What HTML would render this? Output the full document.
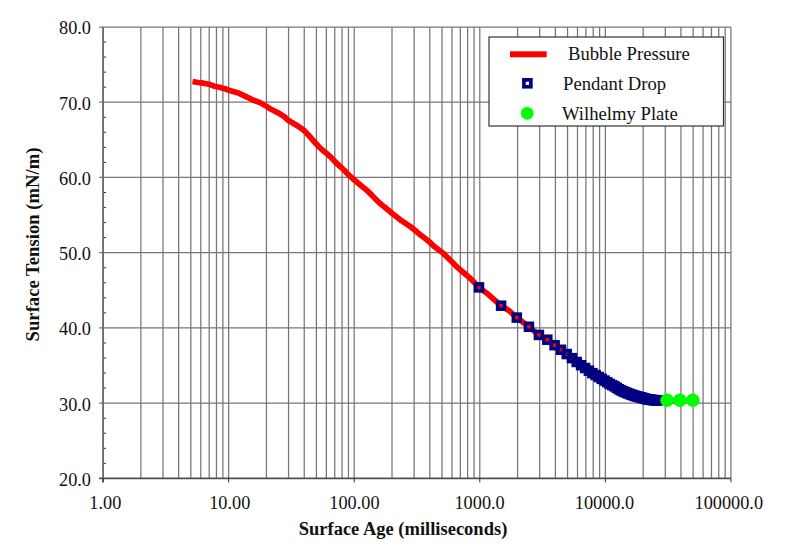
<!DOCTYPE html><html><head><meta charset="utf-8"><style>html,body{margin:0;padding:0;background:#fff;width:800px;height:559px;overflow:hidden}svg{display:block}text{font-family:"Liberation Serif",serif}</style></head><body>
<svg width="800" height="559" viewBox="0 0 800 559">
<rect width="800" height="559" fill="#fff"/>
<g stroke="#767676" stroke-width="1.25"><line x1="140.86" y1="27.00" x2="140.86" y2="478.38"/><line x1="162.97" y1="27.00" x2="162.97" y2="478.38"/><line x1="178.66" y1="27.00" x2="178.66" y2="478.38"/><line x1="190.83" y1="27.00" x2="190.83" y2="478.38"/><line x1="200.78" y1="27.00" x2="200.78" y2="478.38"/><line x1="209.18" y1="27.00" x2="209.18" y2="478.38"/><line x1="216.47" y1="27.00" x2="216.47" y2="478.38"/><line x1="222.89" y1="27.00" x2="222.89" y2="478.38"/><line x1="228.63" y1="27.00" x2="228.63" y2="478.38"/><line x1="266.44" y1="27.00" x2="266.44" y2="478.38"/><line x1="288.55" y1="27.00" x2="288.55" y2="478.38"/><line x1="304.24" y1="27.00" x2="304.24" y2="478.38"/><line x1="316.41" y1="27.00" x2="316.41" y2="478.38"/><line x1="326.35" y1="27.00" x2="326.35" y2="478.38"/><line x1="334.76" y1="27.00" x2="334.76" y2="478.38"/><line x1="342.04" y1="27.00" x2="342.04" y2="478.38"/><line x1="348.46" y1="27.00" x2="348.46" y2="478.38"/><line x1="354.21" y1="27.00" x2="354.21" y2="478.38"/><line x1="392.01" y1="27.00" x2="392.01" y2="478.38"/><line x1="414.12" y1="27.00" x2="414.12" y2="478.38"/><line x1="429.81" y1="27.00" x2="429.81" y2="478.38"/><line x1="441.98" y1="27.00" x2="441.98" y2="478.38"/><line x1="451.93" y1="27.00" x2="451.93" y2="478.38"/><line x1="460.33" y1="27.00" x2="460.33" y2="478.38"/><line x1="467.62" y1="27.00" x2="467.62" y2="478.38"/><line x1="474.04" y1="27.00" x2="474.04" y2="478.38"/><line x1="479.79" y1="27.00" x2="479.79" y2="478.38"/><line x1="517.59" y1="27.00" x2="517.59" y2="478.38"/><line x1="539.70" y1="27.00" x2="539.70" y2="478.38"/><line x1="555.39" y1="27.00" x2="555.39" y2="478.38"/><line x1="567.56" y1="27.00" x2="567.56" y2="478.38"/><line x1="577.50" y1="27.00" x2="577.50" y2="478.38"/><line x1="585.91" y1="27.00" x2="585.91" y2="478.38"/><line x1="593.19" y1="27.00" x2="593.19" y2="478.38"/><line x1="599.61" y1="27.00" x2="599.61" y2="478.38"/><line x1="605.36" y1="27.00" x2="605.36" y2="478.38"/><line x1="643.16" y1="27.00" x2="643.16" y2="478.38"/><line x1="665.27" y1="27.00" x2="665.27" y2="478.38"/><line x1="680.96" y1="27.00" x2="680.96" y2="478.38"/><line x1="693.13" y1="27.00" x2="693.13" y2="478.38"/><line x1="703.08" y1="27.00" x2="703.08" y2="478.38"/><line x1="711.48" y1="27.00" x2="711.48" y2="478.38"/><line x1="718.77" y1="27.00" x2="718.77" y2="478.38"/><line x1="725.19" y1="27.00" x2="725.19" y2="478.38"/><line x1="730.93" y1="27.00" x2="730.93" y2="478.38"/><line x1="99.06" y1="403.15" x2="730.93" y2="403.15"/><line x1="99.06" y1="327.92" x2="730.93" y2="327.92"/><line x1="99.06" y1="252.69" x2="730.93" y2="252.69"/><line x1="99.06" y1="177.46" x2="730.93" y2="177.46"/><line x1="99.06" y1="102.23" x2="730.93" y2="102.23"/><line x1="99.06" y1="27.00" x2="730.93" y2="27.00"/></g>
<g stroke="#333" stroke-width="1"><line x1="103.06" y1="463.33" x2="106.06" y2="463.33"/><line x1="103.06" y1="448.29" x2="106.06" y2="448.29"/><line x1="103.06" y1="433.24" x2="106.06" y2="433.24"/><line x1="103.06" y1="418.20" x2="106.06" y2="418.20"/><line x1="103.06" y1="388.10" x2="106.06" y2="388.10"/><line x1="103.06" y1="373.06" x2="106.06" y2="373.06"/><line x1="103.06" y1="358.01" x2="106.06" y2="358.01"/><line x1="103.06" y1="342.97" x2="106.06" y2="342.97"/><line x1="103.06" y1="312.87" x2="106.06" y2="312.87"/><line x1="103.06" y1="297.83" x2="106.06" y2="297.83"/><line x1="103.06" y1="282.78" x2="106.06" y2="282.78"/><line x1="103.06" y1="267.74" x2="106.06" y2="267.74"/><line x1="103.06" y1="237.64" x2="106.06" y2="237.64"/><line x1="103.06" y1="222.60" x2="106.06" y2="222.60"/><line x1="103.06" y1="207.55" x2="106.06" y2="207.55"/><line x1="103.06" y1="192.51" x2="106.06" y2="192.51"/><line x1="103.06" y1="162.41" x2="106.06" y2="162.41"/><line x1="103.06" y1="147.37" x2="106.06" y2="147.37"/><line x1="103.06" y1="132.32" x2="106.06" y2="132.32"/><line x1="103.06" y1="117.28" x2="106.06" y2="117.28"/><line x1="103.06" y1="87.18" x2="106.06" y2="87.18"/><line x1="103.06" y1="72.14" x2="106.06" y2="72.14"/><line x1="103.06" y1="57.09" x2="106.06" y2="57.09"/><line x1="103.06" y1="42.05" x2="106.06" y2="42.05"/></g>
<line x1="103.06" y1="27.00" x2="103.06" y2="482.38" stroke="#666" stroke-width="1.8"/><line x1="99.06" y1="478.38" x2="730.93" y2="478.38" stroke="#505050" stroke-width="1.7"/>
<g stroke="#333" stroke-width="1"><line x1="103.06" y1="478.38" x2="103.06" y2="482.38"/><line x1="228.63" y1="478.38" x2="228.63" y2="482.38"/><line x1="354.21" y1="478.38" x2="354.21" y2="482.38"/><line x1="479.79" y1="478.38" x2="479.79" y2="482.38"/><line x1="605.36" y1="478.38" x2="605.36" y2="482.38"/><line x1="730.93" y1="478.38" x2="730.93" y2="482.38"/></g>
<g font-size="18.3" fill="#111"><text x="91" y="485.78" text-anchor="end">20.0</text><text x="91" y="410.55" text-anchor="end">30.0</text><text x="91" y="335.32" text-anchor="end">40.0</text><text x="91" y="260.09" text-anchor="end">50.0</text><text x="91" y="184.86" text-anchor="end">60.0</text><text x="91" y="109.63" text-anchor="end">70.0</text><text x="91" y="34.40" text-anchor="end">80.0</text><text x="105.30" y="508.5" text-anchor="middle">1.00</text><text x="229.80" y="508.5" text-anchor="middle">10.00</text><text x="354.40" y="508.5" text-anchor="middle">100.00</text><text x="479.60" y="508.5" text-anchor="middle">1000.0</text><text x="604.50" y="508.5" text-anchor="middle">10000.0</text><text x="728.80" y="508.5" text-anchor="middle">100000.0</text></g>
<text x="403" y="534.5" text-anchor="middle" font-size="18.5" font-weight="bold" fill="#111">Surface Age (milliseconds)</text>
<text transform="translate(39,244.5) rotate(-90)" x="0" y="0" text-anchor="middle" font-size="18.67" font-weight="bold" fill="#111">Surface Tension (mN/m)</text>
<polyline points="192.5,81.5 198.1,82.5 203.4,83.2 208.8,84.2 214.2,86.2 219.5,87.3 224.9,88.8 229.7,90.5 237.5,92.7 245.0,96.1 252.5,99.8 260.0,102.6 267.5,106.9 270.0,108.8 275.0,111.3 277.2,112.3 284.3,116.6 288.6,120.6 291.5,122.2 298.6,126.5 304.3,130.6 309.5,136.2 313.9,141.3 318.4,146.2 322.9,150.5 327.4,154.1 331.8,158.1 336.3,163.0 340.8,167.0 344.5,170.5 348.9,175.2 353.4,179.2 357.9,183.0 362.4,186.8 366.8,190.2 371.3,194.6 375.8,199.4 379.5,202.8 383.9,206.6 388.4,210.2 392.9,214.0 397.4,217.4 401.8,220.9 406.3,223.8 410.8,226.9 415.3,230.5 419.7,234.4 424.3,237.8 428.9,241.4 433.4,245.7 437.9,249.4 442.4,252.5 446.8,256.8 451.3,261.3 455.8,265.8 460.3,269.8 464.6,273.5 468.9,277.1 473.4,281.5 479.1,287.5 486.8,293.2 491.3,297.2 501.8,306.3 508.9,310.5 516.8,317.6 528.5,326.4 539.1,335.1 546.9,339.4 554.3,345.0 560.4,349.3 566.1,353.6 569.5,356.0 573.9,359.8 578.4,363.3 582.9,366.5 587.4,369.6 591.8,372.8 596.3,375.4 600.8,378.3 605.3,381.0 609.8,383.9 614.3,386.2 618.9,389.2 623.4,391.5 627.9,393.3 632.4,395.0 636.8,396.4 641.3,397.5 645.8,398.9 650.3,399.8 654.7,400.2 660.0,400.4 684.0,401.3" fill="none" stroke="#ff0000" stroke-width="5.7" stroke-linejoin="round" stroke-linecap="butt"/>
<g fill="none" stroke="#000080" stroke-width="3.5"><rect x="475.49" y="283.88" width="7" height="7"/><rect x="497.60" y="302.19" width="7" height="7"/><rect x="513.29" y="314.09" width="7" height="7"/><rect x="525.46" y="323.27" width="7" height="7"/><rect x="535.40" y="331.44" width="7" height="7"/><rect x="543.81" y="336.21" width="7" height="7"/><rect x="551.09" y="341.70" width="7" height="7"/><rect x="557.51" y="346.26" width="7" height="7"/><rect x="563.26" y="350.56" width="7" height="7"/><rect x="568.46" y="354.62" width="7" height="7"/><rect x="573.20" y="358.48" width="7" height="7"/><rect x="577.57" y="361.70" width="7" height="7"/><rect x="581.61" y="364.52" width="7" height="7"/><rect x="585.37" y="367.17" width="7" height="7"/><rect x="588.89" y="369.64" width="7" height="7"/><rect x="592.20" y="371.55" width="7" height="7"/><rect x="595.31" y="373.52" width="7" height="7"/><rect x="598.26" y="375.38" width="7" height="7"/><rect x="601.06" y="377.06" width="7" height="7"/><rect x="603.72" y="378.74" width="7" height="7"/><rect x="606.26" y="380.37" width="7" height="7"/><rect x="608.68" y="381.62" width="7" height="7"/><rect x="611.00" y="382.83" width="7" height="7"/><rect x="613.23" y="384.28" width="7" height="7"/><rect x="615.37" y="385.68" width="7" height="7"/><rect x="617.43" y="386.74" width="7" height="7"/><rect x="619.41" y="387.75" width="7" height="7"/><rect x="621.32" y="388.57" width="7" height="7"/><rect x="623.17" y="389.31" width="7" height="7"/><rect x="624.96" y="390.01" width="7" height="7"/><rect x="626.69" y="390.67" width="7" height="7"/><rect x="628.37" y="391.30" width="7" height="7"/><rect x="630.00" y="391.85" width="7" height="7"/><rect x="631.58" y="392.35" width="7" height="7"/><rect x="633.12" y="392.84" width="7" height="7"/><rect x="634.61" y="393.22" width="7" height="7"/><rect x="636.06" y="393.58" width="7" height="7"/><rect x="637.48" y="393.92" width="7" height="7"/><rect x="638.86" y="394.33" width="7" height="7"/><rect x="640.21" y="394.75" width="7" height="7"/><rect x="641.52" y="395.16" width="7" height="7"/><rect x="642.81" y="395.50" width="7" height="7"/><rect x="644.06" y="395.75" width="7" height="7"/><rect x="645.29" y="396.00" width="7" height="7"/><rect x="646.48" y="396.24" width="7" height="7"/><rect x="647.66" y="396.38" width="7" height="7"/><rect x="648.81" y="396.48" width="7" height="7"/><rect x="649.93" y="396.58" width="7" height="7"/><rect x="651.03" y="396.68" width="7" height="7"/><rect x="652.11" y="396.73" width="7" height="7"/><rect x="653.17" y="396.77" width="7" height="7"/><rect x="654.21" y="396.81" width="7" height="7"/></g>
<g fill="#00ff00"><circle cx="667.1" cy="400.2" r="6.8"/><circle cx="679.9" cy="400.2" r="6.8"/><circle cx="692.8" cy="400.2" r="6.8"/></g>
<rect x="489" y="37" width="234.5" height="89" fill="#fff" stroke="#333" stroke-width="1.2"/>
<rect x="510" y="51.3" width="36.7" height="6" fill="#ff0000"/>
<rect x="523.95" y="79.85" width="6.9" height="6.9" fill="none" stroke="#000080" stroke-width="3.7"/>
<circle cx="527.2" cy="113.3" r="6.4" fill="#00ff00"/>
<g font-size="18.67" fill="#111"><text x="568" y="59.5">Bubble Pressure</text><text x="563" y="89.5">Pendant Drop</text><text x="562" y="119.5">Wilhelmy Plate</text></g>
</svg></body></html>
